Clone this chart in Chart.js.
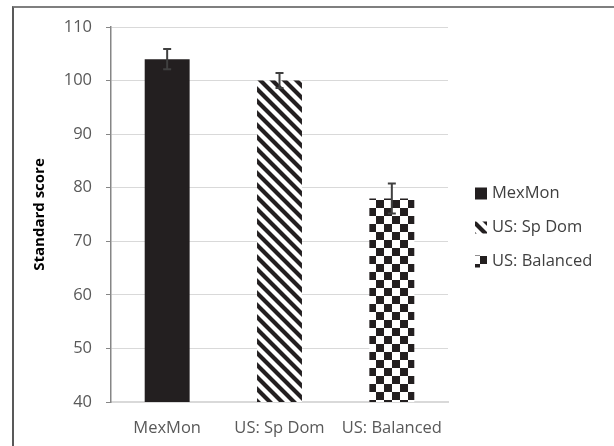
<!DOCTYPE html>
<html>
<head>
<meta charset="utf-8">
<script src="https://cdn.jsdelivr.net/npm/chart.js@4.4.0/dist/chart.umd.min.js"></script>
<style>
  html, body { margin: 0; padding: 0; background: #fff; }
  #wrap { position: relative; width: 614px; height: 446px; }
  #frame {
    position: absolute; left: 12px; top: 6px; width: 600px; height: 450px;
    border-left: 2px solid #595959; border-top: 2px solid #7f7f7f;
    border-right: 1px solid #e0e0e0; pointer-events: none;
  }
  canvas { position: absolute; left: 0; top: 0; }
</style>
</head>
<body>
<div id="wrap">
  <canvas id="chart" width="614" height="446"></canvas>
  <div id="frame"></div>
</div>
<script>
// data
const groups = ['MexMon', 'US: Sp Dom', 'US: Balanced'];
const scores = [104, 100, 78];
const errors = [1.9, 1.4, 2.8];
const yTicks = [40, 50, 60, 70, 80, 90, 100, 110];

const fontName = '"Open Sans", Lato, sans-serif';

// fill patterns
function stripes() {
    const c = document.createElement('canvas');
    c.width = 12; c.height = 12;
    const g = c.getContext('2d');
    g.fillStyle = '#fff';
    g.fillRect(0, 0, 12, 12);
    g.strokeStyle = '#231f20';
    g.lineWidth = 4.2;
    g.beginPath();
    g.moveTo(-6, -6); g.lineTo(18, 18);
    g.moveTo(-6, 6); g.lineTo(6, 18);
    g.moveTo(6, -6); g.lineTo(18, 6);
    g.stroke();
    return g.createPattern(c, 'repeat');
}

function checks() {
    const c = document.createElement('canvas');
    c.width = 16; c.height = 16;
    const g = c.getContext('2d');
    g.fillStyle = '#fff';
    g.fillRect(0, 0, 16, 16);
    g.fillStyle = '#231f20';
    g.fillRect(0, 0, 8, 8);
    g.fillRect(8, 8, 8, 8);
    return g.createPattern(c, 'repeat');
}

const fills = ['#231f20', stripes(), checks()];

// error bars drawn on top of the bars
const errorBars = {
    id: 'errorBars',
    afterDatasetsDraw(chart) {
        const ctx = chart.ctx;
        const y = chart.scales.y;
        const meta = chart.getDatasetMeta(0);
        ctx.save();
        ctx.strokeStyle = '#404040';
        ctx.lineWidth = 2;
        meta.data.forEach((bar, i) => {
            const top = y.getPixelForValue(scores[i] + errors[i]);
            const bot = y.getPixelForValue(scores[i] - errors[i]);
            ctx.beginPath();
            ctx.moveTo(bar.x, top); ctx.lineTo(bar.x, bot);
            ctx.moveTo(bar.x - 4, top); ctx.lineTo(bar.x + 4, top);
            ctx.moveTo(bar.x - 4, bot); ctx.lineTo(bar.x + 4, bot);
            ctx.stroke();
        });
        ctx.restore();
    }
};

// legend on the right
const sideLegend = {
    id: 'sideLegend',
    afterDraw(chart) {
        const ctx = chart.ctx;
        const x0 = chart.chartArea.right + 27;
        const mid = (chart.chartArea.top + chart.chartArea.bottom) / 2 + 13;
        ctx.save();
        ctx.font = '16.5px ' + fontName;
        ctx.textBaseline = 'middle';
        groups.forEach((name, i) => {
            const yc = mid + (i - 1) * 34;
            ctx.fillStyle = fills[i];
            ctx.fillRect(x0, yc - 6, 12, 12);
            ctx.fillStyle = '#404040';
            ctx.fillText(name, x0 + 17, yc);
        });
        ctx.restore();
    }
};

new Chart(document.getElementById('chart'), {
    type: 'bar',
    data: {
        labels: groups,
        datasets: [{
            data: scores,
            backgroundColor: fills,
            borderWidth: 0,
            barPercentage: 0.4,
            categoryPercentage: 1
        }]
    },
    options: {
        responsive: false,
        animation: false,
        layout: { padding: { left: 31, top: 27, right: 166, bottom: 4 } },
        plugins: {
            legend: { display: false },
            tooltip: { enabled: false }
        },
        scales: {
            x: {
                grid: { display: false, drawTicks: false },
                border: { color: '#d9d9d9', width: 2 },
                ticks: { color: '#595959', padding: 16, font: { family: fontName, size: 16.5 } },
                afterFit: s => { s.height = 40; }
            },
            y: {
                min: 40,
                max: 110,
                afterBuildTicks: s => { s.ticks = yTicks.map(v => ({ value: v })); },
                grid: { color: '#d9d9d9', lineWidth: 1, tickLength: 5, tickColor: '#868686' },
                border: { color: '#868686', width: 1.5 },
                ticks: { color: '#595959', padding: 14, font: { family: fontName, size: 16.5 } },
                title: {
                    display: true,
                    text: 'Standard score',
                    color: '#000',
                    padding: 0,
                    font: { family: fontName, size: 15, weight: 'bold' }
                },
                afterFit: s => { s.width = 80; }
            }
        }
    },
    plugins: [errorBars, sideLegend]
});
</script>
</body>
</html>
